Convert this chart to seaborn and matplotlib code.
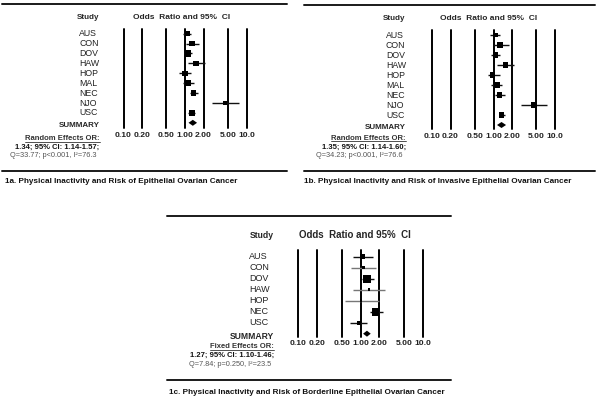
import matplotlib
matplotlib.use("Agg")
import matplotlib.pyplot as plt
import matplotlib.transforms as mtransforms
import numpy as np
import pandas as pd
import seaborn as sns

W, H = 600, 401

# ---------------- data ----------------
ticks = [0.10, 0.20, 0.50, 1.00, 2.00, 5.00, 10.0]
tick_labels = ["0.10", "0.20", "0.50", "1.00", "2.00", "5.00", "10.0"]

# 1a. Epithelial ovarian cancer
studies_a = ["AUS", "CON", "DOV", "HAW", "HOP", "MAL", "NEC", "NJO", "USC"]
or_a = [1.10, 1.31, 1.12, 1.52, 1.00, 1.11, 1.38, 4.50, 1.31]
lo_a = [0.94, 1.04, 0.97, 1.12, 0.81, 0.94, 1.19, 2.75, 1.14]
hi_a = [1.27, 1.71, 1.31, 2.10, 1.24, 1.38, 1.63, 7.50, 1.48]
wt_a = [5.0, 5.0, 6.0, 5.0, 5.0, 5.7, 5.0, 3.7, 5.3]
summary_a = [1.34, 1.14, 1.57]
stats_a = ["Random Effects OR:", "1.34; 95% CI: 1.14-1.57;",
           "Q=33.77; p<0.001, I\u00b2=76.3"]
caption_a = "1a. Physical Inactivity and Risk of Epithelial Ovarian Cancer"

# 1b. Invasive epithelial ovarian cancer
studies_b = ["AUS", "CON", "DOV", "HAW", "HOP", "MAL", "NEC", "NJO", "USC"]
or_b = [1.08, 1.29, 1.08, 1.58, 0.97, 1.13, 1.25, 4.58, 1.37]
lo_b = [0.89, 0.97, 0.91, 1.12, 0.80, 0.91, 1.06, 2.75, 1.21]
hi_b = [1.28, 1.80, 1.29, 2.17, 1.29, 1.39, 1.55, 7.40, 1.55]
wt_b = [4.5, 5.3, 5.0, 4.7, 5.0, 5.0, 5.0, 5.3, 4.7]
summary_b = [1.35, 1.14, 1.60]
stats_b = ["Random Effects OR:", "1.35; 95% CI: 1.14-1.60;",
           "Q=34.23; p<0.001, I\u00b2=76.6"]
caption_b = "1b. Physical Inactivity and Risk of Invasive Epithelial Ovarian Cancer"

# 1c. Borderline epithelial ovarian cancer
studies_c = ["AUS", "CON", "DOV", "HAW", "HOP", "NEC", "USC"]
or_c = [1.09, 1.10, 1.26, 1.37, 1.02, 1.74, 0.93]
lo_c = [0.76, 0.70, 1.04, 0.77, 0.57, 1.43, 0.67]
hi_c = [1.60, 1.78, 1.62, 2.48, 1.98, 2.30, 1.29]
wt_c = [4.3, 2.7, 7.0, 2.7, 2.3, 7.0, 3.7]
summary_c = [1.27, 1.10, 1.46]
stats_c = ["Fixed Effects OR:", "1.27; 95% CI: 1.10-1.46;",
           "Q=7.84; p=0.250, I\u00b2=23.5"]
caption_c = "1c. Physical Inactivity and Risk of Borderline Epithelial Ovarian Cancer"

# ---------------- layout (pixels) ----------------
layout_a = dict(x01=123.5, x10=246.5, y0=33.7, step=9.9, top=29.3, bot=128.3,
                lab_x=79.3, hdr_y=17.5, study_x=77, odds_x=182, odds_fs=6.0,
                hdr_fs=5.8, lab_fs=6.3,
                stats_r=99.5, stats_y=[139, 147.3, 155.5],
                rule=(2, 287), rule_top=4, rule_bot=170.7, cap_x=5, cap_y=181.5)
layout_b = dict(x01=432, x10=555, y0=35, step=10, top=30, bot=129.3,
                lab_x=386, hdr_y=19, study_x=383.3, odds_x=489, odds_fs=6.0,
                hdr_fs=5.8, lab_fs=6.3,
                stats_r=406, stats_y=[138.7, 147.3, 155.7],
                rule=(304, 595), rule_top=5, rule_bot=170.7, cap_x=304, cap_y=182)
layout_c = dict(x01=298.3, x10=422.7, y0=256.7, step=11, top=249.5, bot=336.5,
                lab_x=249, hdr_y=235, study_x=249.3, odds_x=355, odds_fs=7.0,
                hdr_fs=6.2, lab_fs=6.5,
                stats_r=274, stats_y=[347, 355.7, 364],
                rule=(167, 451), rule_top=215.5, rule_bot=380, cap_x=169, cap_y=392.5)

sns.set_style("white")
plt.rcParams["font.family"] = ["Liberation Sans", "DejaVu Sans"]

fig = plt.figure(figsize=(W / 100, H / 100), dpi=100)


def fx(px):
    return px / W


def fy(py):
    return 1 - py / H


def forest(studies, ors, los, his, wts, summary, stats, caption, L):
    n = len(studies)
    ylim = ((L["bot"] - L["y0"]) / L["step"], (L["top"] - L["y0"]) / L["step"])

    # axes spans the vertical reference lines
    ax = fig.add_axes([fx(L["x01"]), fy(L["bot"]),
                       fx(L["x10"] - L["x01"]), (L["bot"] - L["top"]) / H])
    ax.set_xscale("log")
    ax.axis("off")

    for t in ticks:
        ax.axvline(t, color="black", lw=1.4, clip_on=False, zorder=1)

    df = pd.DataFrame({"study": studies, "or": ors, "lo": los, "hi": his,
                       "wt": wts, "row": np.arange(n)})
    # thinner, lighter CI line for the low-weight studies
    ci_col = ["#777777" if w < 3 else "#111111" for w in wts]
    ax.hlines(df["row"], df["lo"], df["hi"], colors=ci_col, lw=1.0, zorder=2)
    sizes = (df["wt"] * 1.1 / 1.389) ** 2
    sns.scatterplot(data=df, x="or", y="row", marker="s", s=sizes,
                    color="black", edgecolor="none", linewidth=0, ax=ax,
                    legend=False, zorder=3)

    # summary diamond
    est, slo, shi = summary
    h = 3.0 / L["step"]
    ax.fill([slo, est, shi, est], [n, n - h, n, n + h], color="black",
            lw=0, zorder=3)

    ax.set_xlim(ticks[0], ticks[-1])
    ax.set_ylim(*ylim)

    trans = mtransforms.blended_transform_factory(fig.transFigure, ax.transData)
    for i, s in enumerate(studies):
        ax.text(fx(L["lab_x"]), i, s, transform=trans, ha="left", va="center",
                fontsize=L["lab_fs"], color="#222222")
    ax.text(fx(L["stats_r"]), n + 0.25, "SUMMARY", transform=trans, ha="right",
            va="center", fontsize=L["hdr_fs"], fontweight="bold")

    # tick labels under the lines
    tick_trans = mtransforms.blended_transform_factory(ax.transData, fig.transFigure)
    for t, lab in zip(ticks, tick_labels):
        ax.text(t, fy(L["bot"] + 7), lab, transform=tick_trans, ha="center",
                va="center", fontsize=6.1, fontweight="bold", color="#222222")

    # headers
    fig.text(fx(L["study_x"]), fy(L["hdr_y"]), "Study", ha="left", va="center",
             fontsize=L["hdr_fs"], fontweight="bold")
    fig.text(fx(L["odds_x"]), fy(L["hdr_y"]), "Odds  Ratio and 95%  CI",
             ha="center", va="center", fontsize=L["odds_fs"], fontweight="bold")

    # stats block
    t0 = fig.text(fx(L["stats_r"]), fy(L["stats_y"][0]), stats[0], ha="right",
                  va="center", fontsize=5.5, fontweight="bold", color="#333333")
    fig.text(fx(L["stats_r"]), fy(L["stats_y"][1]), stats[1], ha="right",
             va="center", fontsize=5.5, fontweight="bold", color="#111111")
    fig.text(fx(L["stats_r"] - 3), fy(L["stats_y"][2]), stats[2], ha="right",
             va="center", fontsize=5.3, color="#555555")

    # underline of the first stats line
    fig.canvas.draw()
    bb = t0.get_window_extent()
    fig.add_artist(plt.Line2D([bb.x0 / W, bb.x1 / W],
                              [bb.y0 / H + 0.002, bb.y0 / H + 0.002],
                              transform=fig.transFigure, color="#333333", lw=0.6))

    # rules and caption
    for ry in (L["rule_top"], L["rule_bot"]):
        fig.add_artist(plt.Line2D([fx(L["rule"][0]), fx(L["rule"][1])],
                                  [fy(ry), fy(ry)], transform=fig.transFigure,
                                  color="#1a1a1a", lw=1.4))
    fig.text(fx(L["cap_x"]), fy(L["cap_y"]), caption, ha="left", va="center",
             fontsize=5.9, fontweight="bold", color="#111111")


forest(studies_a, or_a, lo_a, hi_a, wt_a, summary_a, stats_a, caption_a, layout_a)
forest(studies_b, or_b, lo_b, hi_b, wt_b, summary_b, stats_b, caption_b, layout_b)
forest(studies_c, or_c, lo_c, hi_c, wt_c, summary_c, stats_c, caption_c, layout_c)

fig.savefig("out.png", dpi=100, facecolor="white")
